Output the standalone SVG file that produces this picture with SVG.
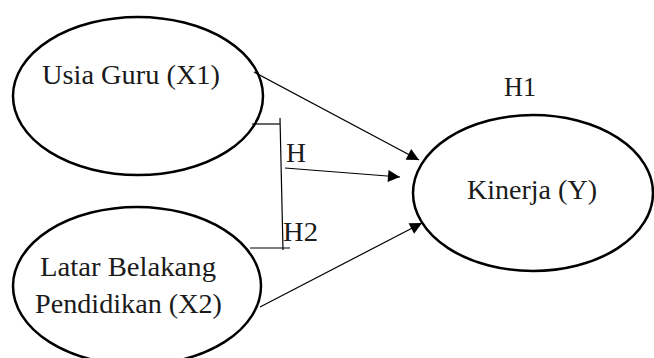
<svg xmlns="http://www.w3.org/2000/svg" width="654" height="358" viewBox="0 0 654 358">
<defs>
<style>
.node ellipse{fill:#fff;stroke:#000;stroke-width:2.5}
text{font-family:"Liberation Serif","Times New Roman",serif;font-size:27px;fill:#1a1a1a}
.c line{stroke:#000;stroke-width:1.2}
</style>
<marker id="ah" viewBox="0 0 10 10" refX="10" refY="5" markerWidth="15" markerHeight="12" markerUnits="userSpaceOnUse" orient="auto">
<path d="M0,0 L10,5 L0,10 z" fill="#000"/>
</marker>
</defs>
<rect width="654" height="358" fill="#fff"/>
<g id="x1" class="node">
<ellipse cx="138" cy="96" rx="125" ry="79"/>
<text x="42" y="84" textLength="178" lengthAdjust="spacingAndGlyphs">Usia Guru (X1)</text>
</g>
<g id="x2" class="node">
<ellipse cx="137" cy="286" rx="124" ry="79"/>
<text x="40" y="276" textLength="176" lengthAdjust="spacingAndGlyphs">Latar Belakang</text>
<text x="35" y="313" textLength="187" lengthAdjust="spacingAndGlyphs">Pendidikan (X2)</text>
</g>
<g id="y" class="node">
<ellipse cx="533" cy="193" rx="120" ry="78"/>
<text x="467" y="199" textLength="130" lengthAdjust="spacingAndGlyphs">Kinerja (Y)</text>
</g>
<g class="c">
<line x1="254" y1="72" x2="419" y2="160" marker-end="url(#ah)"/>
<line x1="285" y1="168" x2="400" y2="177" marker-end="url(#ah)"/>
<line x1="260" y1="307" x2="422" y2="223" marker-end="url(#ah)"/>
<line x1="252" y1="124" x2="280" y2="124"/>
<line x1="280" y1="118" x2="283" y2="250"/>
<line x1="250" y1="248" x2="290" y2="248"/>
</g>
<g id="labels">
<text x="504" y="96" textLength="32" lengthAdjust="spacingAndGlyphs">H1</text>
<text x="286" y="162" textLength="20" lengthAdjust="spacingAndGlyphs">H</text>
<text x="283" y="241" textLength="35" lengthAdjust="spacingAndGlyphs">H2</text>
</g>
</svg>
